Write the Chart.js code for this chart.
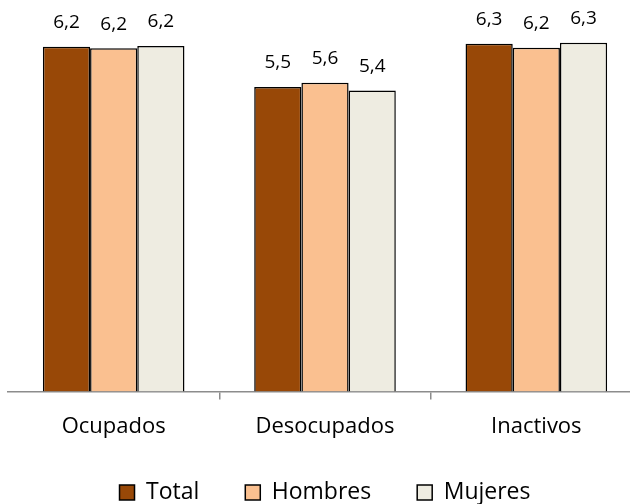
<!DOCTYPE html>
<html>
<head>
<meta charset="utf-8">
<script src="https://cdn.jsdelivr.net/npm/chart.js@4/dist/chart.umd.min.js"></script>
<style>
    html, body { margin: 0; padding: 0; background: #fff; overflow: hidden; }
    #wrap { width: 630px; height: 504px; overflow: hidden; }
</style>
</head>
<body>
<div id="wrap"><canvas id="chart" width="646" height="504"></canvas></div>
<script>
// Chart data
const categories = ['Ocupados', 'Desocupados', 'Inactivos'];
const seriesNames = ['Total', 'Hombres', 'Mujeres'];
const totalValues = [6.23, 5.50, 6.28];
const hombresValues = [6.20, 5.58, 6.21];
const mujeresValues = [6.24, 5.44, 6.30];
const valueLabels = [
    ['6,2', '5,5', '6,3'],
    ['6,2', '5,6', '6,2'],
    ['6,2', '5,4', '6,3']
];

const colors = ['#984807', '#FAC090', '#EEECE1'];
const fontFamily = '"Open Sans", sans-serif';

/**
 * Draws the value label above each bar
 */
const barLabels = {
    id: 'barLabels',
    afterDatasetsDraw(chart) {
        const ctx = chart.ctx;
        ctx.save();
        ctx.font = '19px ' + fontFamily;
        ctx.fillStyle = '#000';
        ctx.textAlign = 'center';
        ctx.textBaseline = 'middle';
        chart.data.datasets.forEach((ds, i) => {
            chart.getDatasetMeta(i).data.forEach((bar, j) => {
                ctx.fillText(valueLabels[i][j], bar.x, bar.y - 24);
            });
        });
        ctx.restore();
    }
};

new Chart(document.getElementById('chart').getContext('2d'), {
    type: 'bar',
    data: {
        labels: categories,
        datasets: [
            { label: seriesNames[0], data: totalValues, backgroundColor: colors[0] },
            { label: seriesNames[1], data: hombresValues, backgroundColor: colors[1] },
            { label: seriesNames[2], data: mujeresValues, backgroundColor: colors[2] }
        ].map(ds => Object.assign(ds, {
            borderColor: '#000',
            borderWidth: 1.5,
            borderSkipped: 'bottom',
            categoryPercentage: 0.67,
            barPercentage: 1
        }))
    },
    options: {
        responsive: false,
        animation: false,
        layout: { padding: { top: 4, left: 8, right: 4, bottom: -10 } },
        scales: {
            x: {
                border: { display: true, color: '#8c8c8c', width: 1.5 },
                grid: {
                    drawOnChartArea: false,
                    tickLength: 8,
                    lineWidth: 1.5,
                    color: ctx => (ctx.index === 0 || ctx.index === 3) ? 'rgba(0,0,0,0)' : '#8c8c8c'
                },
                ticks: {
                    color: '#000',
                    padding: 14,
                    font: { family: fontFamily, size: 22 }
                },
                // drop the extra padding below the labels
                afterFit: scale => { scale.height -= 13; }
            },
            y: {
                display: false,
                min: 0,
                max: 7
            }
        },
        plugins: {
            legend: {
                position: 'bottom',
                labels: {
                    color: '#000',
                    boxWidth: 15,
                    boxHeight: 15,
                    padding: 40,
                    font: { family: fontFamily, size: 23 },
                    generateLabels: chart => chart.data.datasets.map((ds, i, all) => ({
                        text: i < all.length - 1 ? ds.label + ' ' : ds.label,
                        fillStyle: ds.backgroundColor,
                        strokeStyle: '#000',
                        lineWidth: 1.5,
                        datasetIndex: i
                    }))
                }
            },
            tooltip: { enabled: false }
        }
    },
    plugins: [barLabels]
});
</script>
</body>
</html>
